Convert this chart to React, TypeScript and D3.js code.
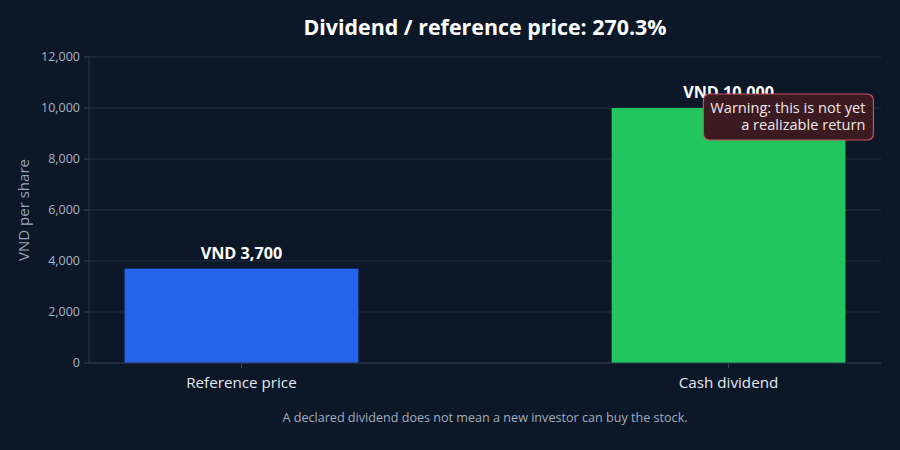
import React from 'react'
import { scaleLinear, scalePoint, format } from 'd3'

const categories = ['Reference price', 'Cash dividend']
const values = [3700, 10000]
const barColors = ['#2563eb', '#22c55e']
const yTicks = [0, 2000, 4000, 6000, 8000, 10000, 12000]
const title = 'Dividend / reference price: 270.3%'
const yTitle = 'VND per share'
const footnote = 'A declared dividend does not mean a new investor can buy the stock.'
const warningLines = ['Warning: this is not yet', 'a realizable return']

const width = 900
const height = 450
const margin = { top: 57, right: 19, bottom: 87, left: 89 }
const innerWidth = width - margin.left - margin.right
const innerHeight = height - margin.top - margin.bottom
const font = '"Open Sans", "Noto Sans", sans-serif'

const fmt = format(',')

export default function App() {
  const x = scalePoint<string>().domain(categories).range([0, innerWidth]).padding(0.313)
  const y = scaleLinear().domain([0, 12000]).range([innerHeight, 0])
  const barW = x.step() * 0.48

  // annotation box sits at the top-right corner of the dividend bar
  const boxRight = x(categories[1])! + barW / 2 + 28
  const boxTop = y(values[1]) - 14
  const boxW = 170
  const boxH = 46

  return (
    <svg width={width} height={height} style={{ position: 'fixed', left: 0, top: 0, background: '#0c1728' }}>
      <rect width={width} height={height} fill="#0c1728" />
      <text x={margin.left + innerWidth / 2} y={35} textAnchor="middle" fill="#ffffff"
        style={{ font: `bold 21.4px ${font}` }}>{title}</text>
      <g transform={`translate(${margin.left},${margin.top})`}>
        {yTicks.map(t => (
          <g key={t} transform={`translate(0,${y(t)})`}>
            <line x1={0} x2={innerWidth} stroke="#223044" strokeWidth={1} />
            <line x1={-5} x2={0} stroke="#3a475a" />
            <text x={-9} dy="0.35em" textAnchor="end" fill="#a9b3c3" style={{ font: `12.5px ${font}` }}>{fmt(t)}</text>
          </g>
        ))}
        <line x1={0} x2={0} y1={0} y2={innerHeight} stroke="#2a3649" />
        {categories.map((c, i) => (
          <g key={c}>
            <rect x={x(c)! - barW / 2} y={y(values[i])} width={barW} height={innerHeight - y(values[i])}
              fill={barColors[i]} />
            <text x={x(c)} y={y(values[i]) - 10} textAnchor="middle" fill="#ffffff"
              style={{ font: `bold 16.2px ${font}` }}>{`VND ${fmt(values[i])}`}</text>
            <line x1={x(c)} x2={x(c)} y1={innerHeight} y2={innerHeight + 5} stroke="#3a475a" />
            <text x={x(c)} y={innerHeight + 25} textAnchor="middle" fill="#e3e8ef"
              style={{ font: `15.2px ${font}` }}>{c}</text>
          </g>
        ))}
        <line x1={0} x2={innerWidth} y1={innerHeight} y2={innerHeight} stroke="#2a3649" />
        <g transform={`translate(${boxRight - boxW},${boxTop})`}>
          <rect width={boxW} height={boxH} rx={6} fill="#3b1a22" stroke="#c4525c" strokeWidth={1.2} />
          {warningLines.map((l, i) => (
            <text key={l} x={boxW - 8} y={19 + i * 17} textAnchor="end" fill="#f1e6e6"
              style={{ font: `14.6px ${font}` }}>{l}</text>
          ))}
        </g>
      </g>
      <text transform={`translate(29,${margin.top + innerHeight / 2}) rotate(-90)`} textAnchor="middle"
        fill="#98a3b4" style={{ font: `15px ${font}` }}>{yTitle}</text>
      <text x={margin.left + innerWidth / 2} y={422} textAnchor="middle" fill="#a3adbd"
        style={{ font: `12.6px ${font}` }}>{footnote}</text>
    </svg>
  )
}
